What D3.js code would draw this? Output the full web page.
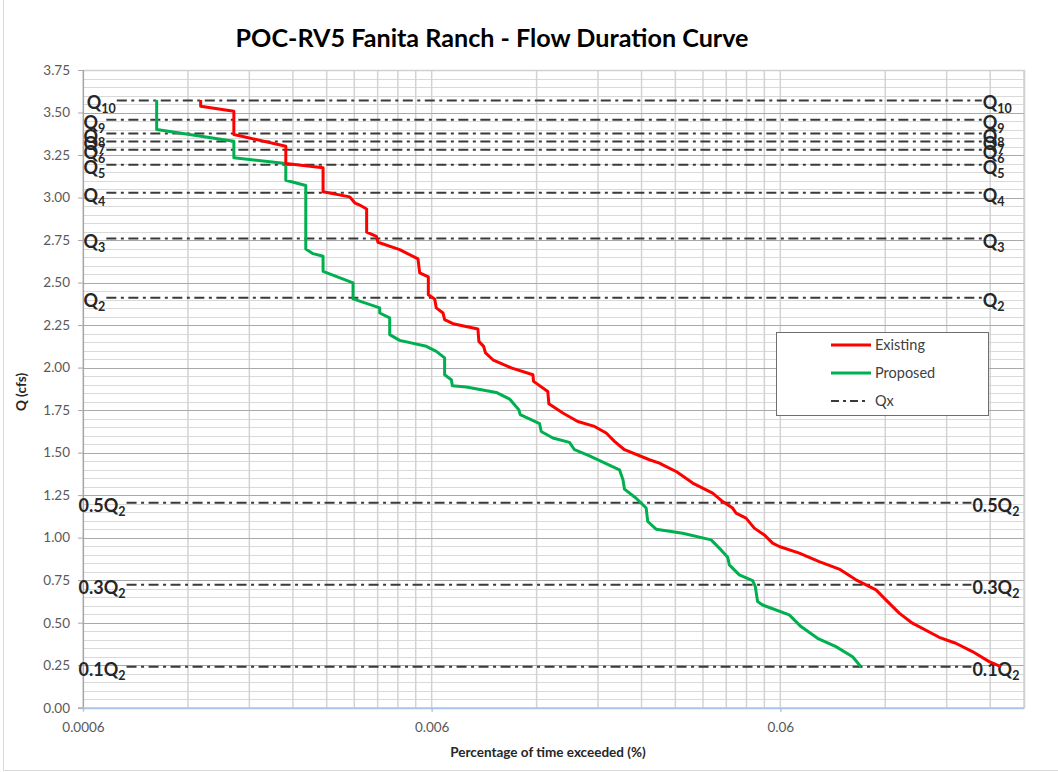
<!DOCTYPE html>
<html>
<head>
<meta charset="utf-8">
<script src="https://cdn.jsdelivr.net/npm/d3@7"></script>
<style>
  body { margin: 0; background: #fff; }
  svg { display: block; }
  text { font-family: Lato, "Open Sans", "Liberation Sans", sans-serif; }
</style>
</head>
<body>
<svg id="chart" width="1058" height="772"></svg>
<script>
// Flow duration curves: percentage of time exceeded (%) against flow Q (cfs)
const existingPct = [0.001305,0.001305,0.001625,0.001625,0.00229,0.00229,0.002929,0.002929,0.003493,0.00361,
  0.00373,0.003906,0.003906,0.004165,0.00421,0.004857,0.005482,0.005544,0.00587,0.00587,
  0.00612,0.006187,0.006468,0.006536,0.006907,0.008143,0.008196,0.008456,0.008566,0.008988,
  0.01015,0.01171,0.01176,0.01292,0.01301,0.01427,0.01575,0.01759,0.019,0.02007,
  0.02144,0.02528,0.02701,0.0276,0.03015,0.03047,0.03364,0.03838,0.04101,0.04379,
  0.04479,0.04784,0.05053,0.05399,0.05702,0.0596,0.06802,0.07758,0.08855,0.09889,
  0.1057,0.1129,0.1205,0.1316,0.1436,0.1713,0.1912,0.2134,0.2383,0.2574];
const existingQ = [3.573,3.537,3.508,3.371,3.302,3.200,3.175,3.034,3.004,2.969,
  2.956,2.933,2.796,2.772,2.737,2.694,2.639,2.557,2.533,2.429,
  2.404,2.351,2.321,2.282,2.258,2.227,2.154,2.125,2.086,2.046,
  1.998,1.958,1.919,1.860,1.788,1.733,1.683,1.654,1.615,1.566,
  1.517,1.458,1.438,1.428,1.389,1.383,1.321,1.262,1.212,1.174,
  1.144,1.115,1.056,1.016,0.968,0.948,0.909,0.859,0.815,0.752,
  0.722,0.693,0.634,0.556,0.497,0.414,0.379,0.330,0.271,0.241];

const proposedPct = [0.000976,0.000976,0.001625,0.001625,0.00229,0.00229,0.002613,0.002613,0.002741,0.002929,
  0.002929,0.00357,0.00357,0.004258,0.004258,0.004548,0.004548,0.004857,0.005794,0.006187,
  0.006536,0.006536,0.006833,0.00688,0.007544,0.009192,0.01004,0.01067,0.01077,0.01224,
  0.01237,0.01336,0.01491,0.01541,0.01702,0.02074,0.02123,0.02144,0.02316,0.02474,
  0.025,0.02642,0.03149,0.03799,0.04057,0.04238,0.04286,0.04577,0.04997,0.05087,
  0.05164,0.05338,0.06366,0.06879,0.07674,0.08663,0.09672,0.1022];
const proposedQ = [3.573,3.400,3.331,3.234,3.200,3.102,3.071,2.698,2.670,2.655,
  2.566,2.498,2.404,2.351,2.321,2.292,2.194,2.160,2.125,2.095,
  2.057,1.958,1.929,1.893,1.886,1.854,1.815,1.752,1.723,1.670,
  1.624,1.586,1.560,1.517,1.481,1.399,1.340,1.285,1.232,1.174,
  1.095,1.050,1.026,0.987,0.928,0.885,0.840,0.781,0.747,0.712,
  0.624,0.604,0.546,0.477,0.408,0.359,0.300,0.241];

// Threshold flows Qx (horizontal reference lines)
const qxMain  = ["Q","Q","Q","Q","Q","Q","Q","Q","Q","0.5Q","0.3Q","0.1Q"];
const qxSub   = ["10","9","8","7","6","5","4","3","2","2","2","2"];
const qxValue = [3.571,3.458,3.376,3.330,3.281,3.193,3.028,2.759,2.410,1.205,0.723,0.241];
const qxFrom  = [0.00075,0.0007,0.0007,0.0007,0.0007,0.0007,0.0007,0.0007,0.0007,0.0008,0.0008,0.0008];
const qxTo    = [0.227,0.227,0.227,0.227,0.227,0.227,0.227,0.227,0.227,0.212,0.212,0.212];

// Axis ticks
const xTicks = [0.0006, 0.006, 0.06];
const xTickLabels = ["0.0006", "0.006", "0.06"];
const yTicks = [0, 0.25, 0.5, 0.75, 1, 1.25, 1.5, 1.75, 2, 2.25, 2.5, 2.75, 3, 3.25, 3.5, 3.75];

const svg = d3.select("#chart");
const W = 1058, H = 772;
const plot = { left: 83, right: 1024, top: 70, bottom: 707.7 };

const x = d3.scaleLog().domain([0.0006, 0.3]).range([plot.left, plot.right]);
const y = d3.scaleLinear().domain([0, 3.75]).range([plot.bottom, plot.top]);

svg.append("rect").attr("width", W).attr("height", H).attr("fill", "#fff");
// chart area frame
svg.append("rect").attr("x", 3.5).attr("y", -10).attr("width", 1100).attr("height", 780.5)
  .attr("fill", "none").attr("stroke", "#d9d9d9").attr("stroke-width", 1);

const g = svg.append("g");

// minor horizontal grid every 0.05
const yMinor = d3.range(0, 76).map(i => +(i * 0.05).toFixed(2)).filter(v => Math.abs(v / 0.25 - Math.round(v / 0.25)) > 1e-6);
g.selectAll("line.ymin").data(yMinor).join("line")
  .attr("x1", plot.left).attr("x2", plot.right)
  .attr("y1", d => Math.round(y(d)) + 0.5).attr("y2", d => Math.round(y(d)) + 0.5)
  .attr("stroke", "#d9d9d9").attr("stroke-width", 1);

// vertical log grid
const xGrid = [];
[0.0006, 0.006, 0.06].forEach(b => { for (let k = 1; k <= 9; k++) { const v = b * k; if (v <= 0.3 + 1e-9) xGrid.push(v); } });
g.selectAll("line.xg").data(xGrid).join("line")
  .attr("x1", d => x(d)).attr("x2", d => x(d))
  .attr("y1", plot.top).attr("y2", plot.bottom)
  .attr("stroke", "#d3d3d3").attr("stroke-width", 1.5);

// major horizontal grid
g.selectAll("line.ymaj").data(yTicks).join("line")
  .attr("x1", plot.left).attr("x2", plot.right)
  .attr("y1", d => Math.round(y(d)) + 0.5).attr("y2", d => Math.round(y(d)) + 0.5)
  .attr("stroke", "#a9a9a9").attr("stroke-width", 1);

// plot frame (top and right)
g.append("path")
  .attr("d", `M${plot.left},${plot.top + 0.5}H${plot.right + 0.5}V${plot.bottom}`)
  .attr("fill", "none").attr("stroke", "#d0d0d0").attr("stroke-width", 1.5);

// y axis
const yAxis = svg.append("g").attr("transform", `translate(${plot.left},0)`)
  .call(d3.axisLeft(y).tickValues(yTicks).tickFormat(d3.format(".2f")).tickSize(5).tickPadding(8));
yAxis.select(".domain").attr("stroke", "#a6a6a6").attr("stroke-width", 1.2);
yAxis.selectAll(".tick line").attr("stroke", "#a6a6a6");
yAxis.selectAll(".tick text").attr("fill", "#595959").attr("font-size", 13.5);

// x axis
const xAxis = svg.append("g").attr("transform", `translate(0,${plot.bottom})`)
  .call(d3.axisBottom(x).tickValues(xTicks).tickFormat((d, i) => xTickLabels[i]).tickSize(4).tickPadding(11).tickSizeOuter(0));
xAxis.select(".domain").attr("stroke", "#a9c4e8").attr("stroke-width", 2);
xAxis.selectAll(".tick line").attr("stroke", "#a9c4e8").attr("stroke-width", 1.5);
xAxis.selectAll(".tick text").attr("fill", "#595959").attr("font-size", 13.5);

// Qx reference lines
const qx = qxValue.map((v, i) => ({ v, main: qxMain[i], sub: qxSub[i], from: qxFrom[i], to: qxTo[i] }));
const dash = "10,4.5,3,4.5";
g.selectAll("line.qx").data(qx).join("line")
  .attr("x1", d => x(d.from)).attr("x2", d => x(d.to))
  .attr("y1", d => y(d.v)).attr("y2", d => y(d.v))
  .attr("stroke", "#3a3a3a").attr("stroke-width", 2).attr("stroke-dasharray", dash);

function qLabel(sel, anchor, xf) {
  const t = sel.append("text")
    .attr("x", xf).attr("y", d => y(d.v) + 9)
    .attr("text-anchor", anchor)
    .attr("font-size", 18).attr("font-weight", "bold").attr("fill", "#262626");
  t.append("tspan").text(d => d.main);
  t.append("tspan").attr("dy", 4).attr("font-size", 12.5).text(d => d.sub);
}
const ql = svg.append("g");
ql.selectAll("g").data(qx).join("g").call(s => qLabel(s, "end", d => x(d.from) - 1));
const qr = svg.append("g");
qr.selectAll("g").data(qx).join("g").call(s => qLabel(s, "start", d => x(d.to) + 1));

// flow duration curves
const line = d3.line().x(d => x(d[0])).y(d => y(d[1]));
const existing = existingPct.map((p, i) => [p, existingQ[i]]);
const proposed = proposedPct.map((p, i) => [p, proposedQ[i]]);
svg.append("path").datum(proposed).attr("d", line)
  .attr("fill", "none").attr("stroke", "#00b050").attr("stroke-width", 3).attr("stroke-linejoin", "round");
svg.append("path").datum(existing).attr("d", line)
  .attr("fill", "none").attr("stroke", "#ff0000").attr("stroke-width", 3).attr("stroke-linejoin", "round");

// legend
const legend = svg.append("g").attr("transform", "translate(776,332)");
legend.append("rect").attr("x", 0.5).attr("y", 0.5).attr("width", 212).attr("height", 83)
  .attr("fill", "#fff").attr("stroke", "#6e6e6e").attr("stroke-width", 1);
const legendItems = [
  { name: "Existing", color: "#ff0000", dash: null, w: 3 },
  { name: "Proposed", color: "#00b050", dash: null, w: 3 },
  { name: "Qx", color: "#3a3a3a", dash: "8,4,3,4", w: 2 }
];
legendItems.forEach((d, i) => {
  const yy = 13 + i * 28;
  legend.append("line").attr("x1", 55).attr("x2", d.dash ? 91 : 95).attr("y1", yy).attr("y2", yy)
    .attr("stroke", d.color).attr("stroke-width", d.w).attr("stroke-dasharray", d.dash);
  legend.append("text").attr("x", 99).attr("y", yy + 5).attr("font-size", 14.5).attr("fill", "#404040").text(d.name);
});

// titles
svg.append("text").attr("x", 492).attr("y", 47).attr("text-anchor", "middle")
  .attr("font-size", 24).attr("font-weight", "bold").attr("fill", "#000")
  .attr("textLength", 513).attr("lengthAdjust", "spacingAndGlyphs")
  .text("POC-RV5 Fanita Ranch - Flow Duration Curve");
svg.append("text").attr("x", 548).attr("y", 757).attr("text-anchor", "middle")
  .attr("font-size", 13.5).attr("font-weight", "bold").attr("fill", "#262626")
  .text("Percentage of time exceeded (%)");
svg.append("text").attr("transform", "translate(26,392) rotate(-90)").attr("text-anchor", "middle")
  .attr("font-size", 13.5).attr("font-weight", "bold").attr("fill", "#262626")
  .text("Q (cfs)");
</script>
</body>
</html>
